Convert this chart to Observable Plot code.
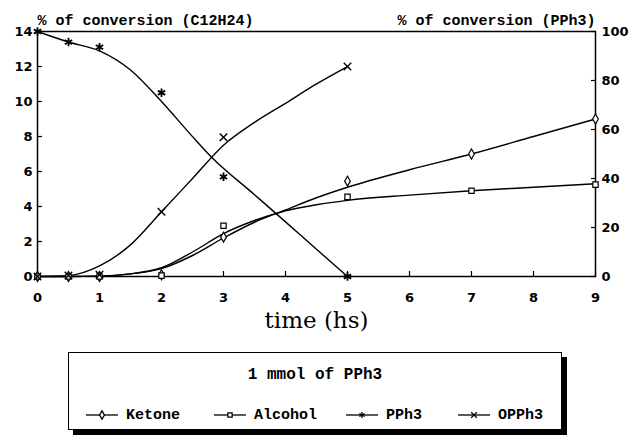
<!DOCTYPE html>
<html>
<head>
<meta charset="utf-8">
<script src="https://cdn.jsdelivr.net/npm/d3@7"></script>
<script src="https://cdn.jsdelivr.net/npm/@observablehq/plot@0.6"></script>
<style>
  html, body { margin: 0; padding: 0; background: #fff; }
  #wrap { position: relative; width: 631px; height: 436px; overflow: hidden; }
  #legend { position: absolute; left: 68px; top: 352px; width: 492px; height: 76px;
    border: 1.5px solid #000; box-shadow: 5px 5px 0 #000; background: #fff;
    font-family: "Liberation Mono", monospace; font-weight: bold; color: #000; }
  #legend .title { position: absolute; top: 13px; left: 0; width: 100%; text-align: center; font-size: 16px; }
  #legend .item { position: absolute; top: 53px; height: 18px; display: flex; align-items: center; font-size: 15px; }
  #legend .item svg { margin-right: 8px; }
</style>
</head>
<body>
<div id="wrap"></div>
<script>
// ---- data ----
const times      = [0, 0.5, 1, 2, 3, 5, 7, 9];
const ketone     = [0, 0, 0, 0.1, 2.25, 5.45, 7.0, 9.0];     // % C12H24 (left axis)
const alcohol    = [0, 0, 0, 0.05, 2.9, 4.55, 4.9, 5.25];    // % C12H24 (left axis)
const pTimes     = [0, 0.5, 1, 2, 3, 5];
const pph3       = [100, 95.7, 93.6, 75, 40.7, 0];           // % PPh3 (right axis)
const opph3      = [0, 0.4, 0.7, 26.4, 56.8, 85.7];          // % PPh3 (right axis)

// fitted curves drawn in the reference
const fitT        = [0, 0.5, 1, 1.5, 2, 2.5, 3, 3.5, 4, 4.5, 5, 6, 7, 8, 9];
const ketoneFit   = [0, 0, 0.02, 0.15, 0.45, 1.2, 2.2, 3.1, 3.8, 4.5, 5.1, 6.1, 7.0, 8.0, 9.0];
const alcoholFit  = [0, 0, 0.02, 0.15, 0.5, 1.4, 2.45, 3.2, 3.75, 4.1, 4.35, 4.65, 4.9, 5.1, 5.3];
const pFitT       = [0, 0.5, 1, 1.5, 2, 2.5, 2.8, 3.5, 4, 4.5, 5];
const pph3Fit     = [100, 95.7, 92.1, 84.3, 71.4, 57.1, 48.9, 33.4, 22.3, 11.1, 0];
const oFitT       = [0, 0.5, 1, 1.5, 2, 2.5, 3, 3.5, 4, 4.5, 5];
const opph3Fit    = [0, 0.36, 4.3, 12.9, 26.4, 40, 53.6, 62.9, 70.7, 78.6, 85.7];

const xTicks      = [0, 1, 2, 3, 4, 5, 6, 7, 8, 9];
const leftTicks   = [0, 2, 4, 6, 8, 10, 12, 14];
const rightTicks  = [0, 20, 40, 60, 80, 100];
const seriesNames = ["Ketone", "Alcohol", "PPh3", "OPPh3"];
const legendTitle = "1 mmol of PPh3";
const leftTitle   = "% of conversion (C12H24)";
const rightTitle  = "% of conversion (PPh3)";
const xTitle      = "time (hs)";

// ---- build tables ----
const LEFT_MAX = 14, RIGHT_MAX = 100;
const toLeft = v => v * LEFT_MAX / RIGHT_MAX;
const zip = (ts, vs, conv = v => v) => ts.map((t, i) => ({t, v: conv(vs[i])}));

const ketonePts  = zip(times, ketone);
const alcoholPts = zip(times, alcohol);
const pph3Pts    = zip(pTimes, pph3, toLeft);
const opph3Pts   = zip(pTimes, opph3, toLeft);
const ketoneLine  = zip(fitT, ketoneFit);
const alcoholLine = zip(fitT, alcoholFit);
const pph3Line    = zip(pFitT, pph3Fit, toLeft);
const opph3Line   = zip(oFitT, opph3Fit, toLeft);

const lineOpts = {x: "t", y: "v", curve: "monotone-x", stroke: "black", strokeWidth: 1.4};
const dotBase = {x: "t", y: "v", stroke: "black", fill: "white", strokeWidth: 1.2};

const chart = Plot.plot({
  width: 631, height: 345,
  marginTop: 31, marginBottom: 69, marginLeft: 37, marginRight: 36,
  x: {domain: [0, 9]},
  y: {domain: [0, LEFT_MAX]},
  style: {fontFamily: "DejaVu Sans", fontWeight: "bold", fontSize: "13px", color: "black", background: "white", overflow: "visible"},
  marks: [
    Plot.frame({stroke: "black", strokeWidth: 1.5}),
    // x axis
    Plot.axisX(xTicks, {tickSize: 0, tickPadding: 16, label: null, fontSize: 13, fontWeight: "bold"}),
    Plot.axisX(xTicks, {tickSize: -5, text: null, label: null, strokeWidth: 1.2}),
    // left axis
    Plot.axisY(leftTicks, {anchor: "left", tickSize: 0, tickPadding: 5, label: null, fontSize: 13, fontWeight: "bold"}),
    Plot.axisY(leftTicks, {anchor: "left", tickSize: -5, text: null, label: null, strokeWidth: 1.2}),
    // right axis (PPh3 %)
    Plot.axisY(rightTicks.map(toLeft), {anchor: "right", tickSize: 0, tickPadding: 6, label: null,
      tickFormat: d => String(Math.round(d * RIGHT_MAX / LEFT_MAX)), fontSize: 13, fontWeight: "bold"}),
    Plot.axisY(rightTicks.map(toLeft), {anchor: "right", tickSize: -5, text: null, label: null, strokeWidth: 1.2}),
    // titles
    Plot.text([leftTitle], {frameAnchor: "top-left", textAnchor: "start", dy: -17,
      fontFamily: "Liberation Mono", fontSize: 15, fontWeight: "bold"}),
    Plot.text([rightTitle], {frameAnchor: "top-right", textAnchor: "end", dy: -17,
      fontFamily: "Liberation Mono", fontSize: 15, fontWeight: "bold"}),
    Plot.text([xTitle], {frameAnchor: "bottom", dy: 51, fontFamily: "DejaVu Serif", fontSize: 23, fontWeight: "normal"}),
    // fitted curves
    Plot.line(ketoneLine, lineOpts),
    Plot.line(alcoholLine, lineOpts),
    Plot.line(pph3Line, lineOpts),
    Plot.line(opph3Line, lineOpts),
    // markers
    Plot.dot(ketonePts, {...dotBase, symbol: "diamond", r: 3}),
    Plot.dot(alcoholPts, {...dotBase, symbol: "square", r: 3}),
    Plot.dot(pph3Pts, {...dotBase, fill: "none", symbol: "asterisk", r: 4, strokeWidth: 1.8}),
    Plot.dot(opph3Pts, {...dotBase, fill: "none", symbol: "times", r: 3.5, strokeWidth: 1.4})
  ]
});

const wrap = document.getElementById("wrap");
wrap.appendChild(chart);

// ---- legend ----
const legend = document.createElement("div");
legend.id = "legend";
wrap.appendChild(legend);
const t = document.createElement("div");
t.className = "title";
t.textContent = legendTitle;
legend.appendChild(t);

const symbolFor = {Ketone: d3.symbolDiamond, Alcohol: d3.symbolSquare, PPh3: d3.symbolAsterisk, OPPh3: d3.symbolTimes};
const sizeFor = {Ketone: 20, Alcohol: 18, PPh3: 26, OPPh3: 22};
const itemLeft = [17, 145, 277, 389]; // offsets within box
seriesNames.forEach((name, i) => {
  const item = document.createElement("div");
  item.className = "item";
  item.style.left = itemLeft[i] + "px";
  const svg = d3.create("svg").attr("width", 32).attr("height", 14);
  svg.append("line").attr("x1", 0).attr("x2", 32).attr("y1", 7).attr("y2", 7)
    .attr("stroke", "black").attr("stroke-width", 1.3);
  const open = name === "Ketone" || name === "Alcohol";
  svg.append("path").attr("transform", "translate(16,7)")
    .attr("d", d3.symbol(symbolFor[name], sizeFor[name])())
    .attr("fill", open ? "white" : "none").attr("stroke", "black").attr("stroke-width", 1.3);
  item.appendChild(svg.node());
  const s = document.createElement("span");
  s.textContent = name;
  item.appendChild(s);
  legend.appendChild(item);
});
</script>
</body>
</html>
